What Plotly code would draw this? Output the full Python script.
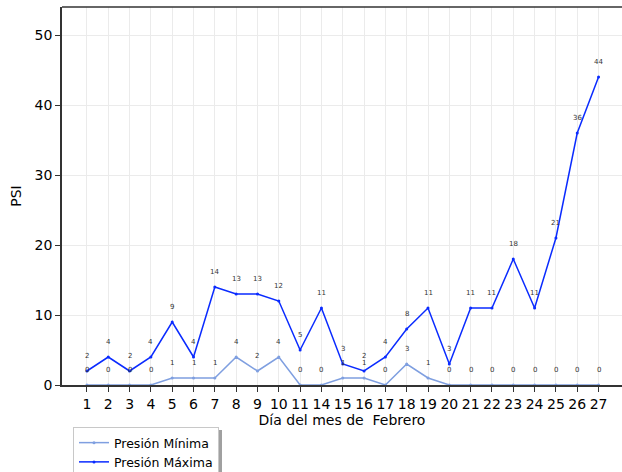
import plotly.graph_objects as go

dias = ["1","2","3","4","5","6","7","8","9","10","11","14","15","16","17","18","19","20","21","22","23","24","25","26","27"]
presion_max = [2,4,2,4,9,4,14,13,13,12,5,11,3,2,4,8,11,3,11,11,18,11,21,36,44]
presion_min = [0,0,0,0,1,1,1,4,2,4,0,0,1,1,0,3,1,0,0,0,0,0,0,0,0]

col_min = "#7f9fe0"
col_max = "#0a2bff"

fig = go.Figure()
fig.add_trace(go.Scatter(x=dias, y=presion_min, mode="lines+markers", name="Presión Mínima",
                         line=dict(color=col_min, width=1.5), marker=dict(size=3, color=col_min)))
fig.add_trace(go.Scatter(x=dias, y=presion_max, mode="lines+markers", name="Presión Máxima",
                         line=dict(color=col_max, width=1.5), marker=dict(size=3, color=col_max)))

annots = []
for i, v in enumerate(presion_max):
    annots.append(dict(x=i, y=v, text=str(v), showarrow=False, yshift=15, xref="x", yref="y",
                       font=dict(size=7, color="#333333", family="DejaVu Sans")))
for i, v in enumerate(presion_min):
    annots.append(dict(x=i, y=v, text=str(v), showarrow=False, yshift=15, xref="x", yref="y",
                       font=dict(size=7, color="#333333", family="DejaVu Sans")))

fig.update_layout(
    width=622, height=472,
    margin=dict(l=62, r=0, t=7, b=87, autoexpand=False),
    paper_bgcolor="white", plot_bgcolor="white",
    font=dict(family="DejaVu Sans", color="black", size=14),
    annotations=annots,
    showlegend=True,
    legend=dict(x=(73-62)/560, y=(385-427)/378, xanchor="left", yanchor="top",
                bgcolor="white", bordercolor="#c8c8c8", borderwidth=1,
                font=dict(size=12.5, family="DejaVu Sans")),
    shapes=[dict(type="rect", xref="paper", yref="paper",
                 x0=(76-62)/560, x1=(222-62)/560, y0=(385-473)/378, y1=(385-430)/378,
                 fillcolor="#a0a0a0", line=dict(width=0), layer="below")],
)
fig.update_xaxes(type="category", range=[-1.17, 25.1], showgrid=True, gridcolor="#ebebeb", gridwidth=1,
                 ticks="outside", ticklen=5, tickcolor="#333333", showline=True, linecolor="#333333", linewidth=1.5,
                 title=dict(text="Día del mes de  Febrero", font=dict(size=14), standoff=4),
                 tickfont=dict(size=14), zeroline=False, automargin=False)
fig.update_yaxes(range=[0, 54], dtick=10, showgrid=True, gridcolor="#ebebeb", gridwidth=1,
                 ticks="outside", ticklen=5, tickcolor="#333333", showline=True, linecolor="#333333", linewidth=1.5,
                 mirror=False, title=dict(text="PSI", font=dict(size=14), standoff=10),
                 tickfont=dict(size=14), zeroline=False, automargin=False)
# top spine
fig.add_shape(type="line", xref="paper", yref="paper", x0=0, x1=1, y0=1, y1=1,
              line=dict(color="#333333", width=1.5))

fig.write_html("out.html", config={"displayModeBar": False},
               post_script="document.body.style.margin='0';document.body.style.overflow='hidden';")
